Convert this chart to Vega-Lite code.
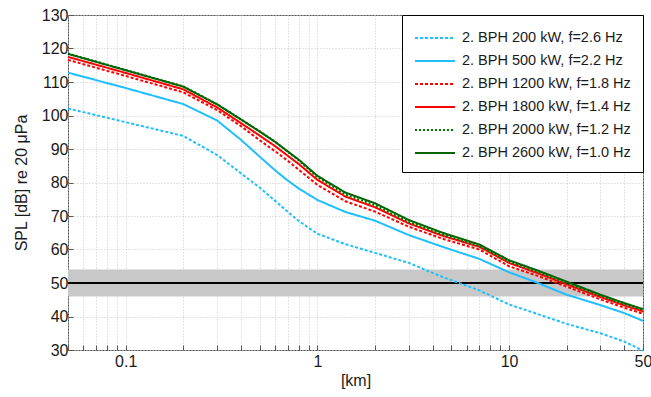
{
  "$schema": "https://vega.github.io/schema/vega-lite/v6.json",
  "width": 575,
  "height": 335,
  "autosize": {"type": "none"},
  "padding": {"left": 68, "top": 15, "right": 8, "bottom": 47},
  "background": "white",
  "config": {
    "font": "Liberation Sans",
    "view": {"stroke": "#555555", "strokeWidth": 1},
    "axis": {
      "domain": false,
      "labelFont": "Liberation Sans",
      "labelFontSize": 16,
      "labelColor": "#1a1a1a",
      "titleFont": "Liberation Sans",
      "titleFontSize": 16,
      "titleFontWeight": "normal",
      "titleColor": "#1a1a1a",
      "grid": true,
      "gridColor": "#c8c8c8",
      "gridDash": [1, 2],
      "gridWidth": 1,
      "tickColor": "#555555",
      "tickSize": -5,
      "labelOverlap": false
    }
  },
  "datasets": {
    "band": [{"lo": 46, "hi": 54, "mid": 50}],
    "curves": [
      {"s": "2. BPH 200 kW, f=2.6 Hz", "d": 0.05, "spl": 102.1},
      {"s": "2. BPH 200 kW, f=2.6 Hz", "d": 0.1, "spl": 98.0},
      {"s": "2. BPH 200 kW, f=2.6 Hz", "d": 0.2, "spl": 93.9},
      {"s": "2. BPH 200 kW, f=2.6 Hz", "d": 0.3, "spl": 88.2},
      {"s": "2. BPH 200 kW, f=2.6 Hz", "d": 0.4, "spl": 82.7},
      {"s": "2. BPH 200 kW, f=2.6 Hz", "d": 0.5, "spl": 78.5},
      {"s": "2. BPH 200 kW, f=2.6 Hz", "d": 0.6, "spl": 74.6},
      {"s": "2. BPH 200 kW, f=2.6 Hz", "d": 0.7, "spl": 71.3},
      {"s": "2. BPH 200 kW, f=2.6 Hz", "d": 0.8, "spl": 68.5},
      {"s": "2. BPH 200 kW, f=2.6 Hz", "d": 1.0, "spl": 64.7},
      {"s": "2. BPH 200 kW, f=2.6 Hz", "d": 1.4, "spl": 61.6},
      {"s": "2. BPH 200 kW, f=2.6 Hz", "d": 2, "spl": 59.0},
      {"s": "2. BPH 200 kW, f=2.6 Hz", "d": 3, "spl": 56.0},
      {"s": "2. BPH 200 kW, f=2.6 Hz", "d": 4.5, "spl": 51.8},
      {"s": "2. BPH 200 kW, f=2.6 Hz", "d": 7, "spl": 47.8},
      {"s": "2. BPH 200 kW, f=2.6 Hz", "d": 10, "spl": 43.6},
      {"s": "2. BPH 200 kW, f=2.6 Hz", "d": 14, "spl": 40.8},
      {"s": "2. BPH 200 kW, f=2.6 Hz", "d": 20, "spl": 37.8},
      {"s": "2. BPH 200 kW, f=2.6 Hz", "d": 30, "spl": 35.0},
      {"s": "2. BPH 200 kW, f=2.6 Hz", "d": 40, "spl": 32.5},
      {"s": "2. BPH 200 kW, f=2.6 Hz", "d": 50, "spl": 29.8},

      {"s": "2. BPH 500 kW, f=2.2 Hz", "d": 0.05, "spl": 112.8},
      {"s": "2. BPH 500 kW, f=2.2 Hz", "d": 0.1, "spl": 108.2},
      {"s": "2. BPH 500 kW, f=2.2 Hz", "d": 0.2, "spl": 103.4},
      {"s": "2. BPH 500 kW, f=2.2 Hz", "d": 0.3, "spl": 98.5},
      {"s": "2. BPH 500 kW, f=2.2 Hz", "d": 0.4, "spl": 92.7},
      {"s": "2. BPH 500 kW, f=2.2 Hz", "d": 0.5, "spl": 87.7},
      {"s": "2. BPH 500 kW, f=2.2 Hz", "d": 0.6, "spl": 83.7},
      {"s": "2. BPH 500 kW, f=2.2 Hz", "d": 0.7, "spl": 80.6},
      {"s": "2. BPH 500 kW, f=2.2 Hz", "d": 0.8, "spl": 78.2},
      {"s": "2. BPH 500 kW, f=2.2 Hz", "d": 1.0, "spl": 74.8},
      {"s": "2. BPH 500 kW, f=2.2 Hz", "d": 1.4, "spl": 71.2},
      {"s": "2. BPH 500 kW, f=2.2 Hz", "d": 2, "spl": 68.6},
      {"s": "2. BPH 500 kW, f=2.2 Hz", "d": 3, "spl": 64.3},
      {"s": "2. BPH 500 kW, f=2.2 Hz", "d": 4.5, "spl": 60.8},
      {"s": "2. BPH 500 kW, f=2.2 Hz", "d": 7, "spl": 57.2},
      {"s": "2. BPH 500 kW, f=2.2 Hz", "d": 10, "spl": 53.2},
      {"s": "2. BPH 500 kW, f=2.2 Hz", "d": 14, "spl": 50.1},
      {"s": "2. BPH 500 kW, f=2.2 Hz", "d": 20, "spl": 46.5},
      {"s": "2. BPH 500 kW, f=2.2 Hz", "d": 30, "spl": 43.4},
      {"s": "2. BPH 500 kW, f=2.2 Hz", "d": 40, "spl": 41.0},
      {"s": "2. BPH 500 kW, f=2.2 Hz", "d": 50, "spl": 38.7},

      {"s": "2. BPH 1200 kW, f=1.8 Hz", "d": 0.05, "spl": 116.6},
      {"s": "2. BPH 1200 kW, f=1.8 Hz", "d": 0.1, "spl": 111.8},
      {"s": "2. BPH 1200 kW, f=1.8 Hz", "d": 0.2, "spl": 106.9},
      {"s": "2. BPH 1200 kW, f=1.8 Hz", "d": 0.3, "spl": 101.6},
      {"s": "2. BPH 1200 kW, f=1.8 Hz", "d": 0.4, "spl": 96.8},
      {"s": "2. BPH 1200 kW, f=1.8 Hz", "d": 0.5, "spl": 92.6},
      {"s": "2. BPH 1200 kW, f=1.8 Hz", "d": 0.6, "spl": 89.4},
      {"s": "2. BPH 1200 kW, f=1.8 Hz", "d": 0.7, "spl": 86.5},
      {"s": "2. BPH 1200 kW, f=1.8 Hz", "d": 0.8, "spl": 83.8},
      {"s": "2. BPH 1200 kW, f=1.8 Hz", "d": 1.0, "spl": 79.3},
      {"s": "2. BPH 1200 kW, f=1.8 Hz", "d": 1.4, "spl": 74.4},
      {"s": "2. BPH 1200 kW, f=1.8 Hz", "d": 2, "spl": 71.3},
      {"s": "2. BPH 1200 kW, f=1.8 Hz", "d": 3, "spl": 66.8},
      {"s": "2. BPH 1200 kW, f=1.8 Hz", "d": 4.5, "spl": 63.2},
      {"s": "2. BPH 1200 kW, f=1.8 Hz", "d": 7, "spl": 60.0},
      {"s": "2. BPH 1200 kW, f=1.8 Hz", "d": 10, "spl": 55.0},
      {"s": "2. BPH 1200 kW, f=1.8 Hz", "d": 14, "spl": 52.2},
      {"s": "2. BPH 1200 kW, f=1.8 Hz", "d": 20, "spl": 48.9},
      {"s": "2. BPH 1200 kW, f=1.8 Hz", "d": 30, "spl": 45.1},
      {"s": "2. BPH 1200 kW, f=1.8 Hz", "d": 40, "spl": 42.6},
      {"s": "2. BPH 1200 kW, f=1.8 Hz", "d": 50, "spl": 40.8},

      {"s": "2. BPH 1800 kW, f=1.4 Hz", "d": 0.05, "spl": 117.5},
      {"s": "2. BPH 1800 kW, f=1.4 Hz", "d": 0.1, "spl": 112.7},
      {"s": "2. BPH 1800 kW, f=1.4 Hz", "d": 0.2, "spl": 107.8},
      {"s": "2. BPH 1800 kW, f=1.4 Hz", "d": 0.3, "spl": 102.4},
      {"s": "2. BPH 1800 kW, f=1.4 Hz", "d": 0.4, "spl": 97.7},
      {"s": "2. BPH 1800 kW, f=1.4 Hz", "d": 0.5, "spl": 94.0},
      {"s": "2. BPH 1800 kW, f=1.4 Hz", "d": 0.6, "spl": 90.9},
      {"s": "2. BPH 1800 kW, f=1.4 Hz", "d": 0.7, "spl": 88.0},
      {"s": "2. BPH 1800 kW, f=1.4 Hz", "d": 0.8, "spl": 85.5},
      {"s": "2. BPH 1800 kW, f=1.4 Hz", "d": 1.0, "spl": 80.8},
      {"s": "2. BPH 1800 kW, f=1.4 Hz", "d": 1.4, "spl": 75.8},
      {"s": "2. BPH 1800 kW, f=1.4 Hz", "d": 2, "spl": 72.6},
      {"s": "2. BPH 1800 kW, f=1.4 Hz", "d": 3, "spl": 67.8},
      {"s": "2. BPH 1800 kW, f=1.4 Hz", "d": 4.5, "spl": 64.1},
      {"s": "2. BPH 1800 kW, f=1.4 Hz", "d": 7, "spl": 60.8},
      {"s": "2. BPH 1800 kW, f=1.4 Hz", "d": 10, "spl": 56.0},
      {"s": "2. BPH 1800 kW, f=1.4 Hz", "d": 14, "spl": 53.0},
      {"s": "2. BPH 1800 kW, f=1.4 Hz", "d": 20, "spl": 49.6},
      {"s": "2. BPH 1800 kW, f=1.4 Hz", "d": 30, "spl": 45.8},
      {"s": "2. BPH 1800 kW, f=1.4 Hz", "d": 40, "spl": 43.3},
      {"s": "2. BPH 1800 kW, f=1.4 Hz", "d": 50, "spl": 41.5},

      {"s": "2. BPH 2000 kW, f=1.2 Hz", "d": 0.05, "spl": 118.5},
      {"s": "2. BPH 2000 kW, f=1.2 Hz", "d": 0.1, "spl": 113.6},
      {"s": "2. BPH 2000 kW, f=1.2 Hz", "d": 0.2, "spl": 108.7},
      {"s": "2. BPH 2000 kW, f=1.2 Hz", "d": 0.3, "spl": 103.4},
      {"s": "2. BPH 2000 kW, f=1.2 Hz", "d": 0.4, "spl": 98.8},
      {"s": "2. BPH 2000 kW, f=1.2 Hz", "d": 0.5, "spl": 95.3},
      {"s": "2. BPH 2000 kW, f=1.2 Hz", "d": 0.6, "spl": 92.2},
      {"s": "2. BPH 2000 kW, f=1.2 Hz", "d": 0.7, "spl": 89.2},
      {"s": "2. BPH 2000 kW, f=1.2 Hz", "d": 0.8, "spl": 86.6},
      {"s": "2. BPH 2000 kW, f=1.2 Hz", "d": 1.0, "spl": 81.6},
      {"s": "2. BPH 2000 kW, f=1.2 Hz", "d": 1.4, "spl": 76.4},
      {"s": "2. BPH 2000 kW, f=1.2 Hz", "d": 2, "spl": 73.2},
      {"s": "2. BPH 2000 kW, f=1.2 Hz", "d": 3, "spl": 68.2},
      {"s": "2. BPH 2000 kW, f=1.2 Hz", "d": 4.5, "spl": 64.5},
      {"s": "2. BPH 2000 kW, f=1.2 Hz", "d": 7, "spl": 61.0},
      {"s": "2. BPH 2000 kW, f=1.2 Hz", "d": 10, "spl": 56.4},
      {"s": "2. BPH 2000 kW, f=1.2 Hz", "d": 14, "spl": 53.4},
      {"s": "2. BPH 2000 kW, f=1.2 Hz", "d": 20, "spl": 50.0},
      {"s": "2. BPH 2000 kW, f=1.2 Hz", "d": 30, "spl": 46.2},
      {"s": "2. BPH 2000 kW, f=1.2 Hz", "d": 40, "spl": 43.7},
      {"s": "2. BPH 2000 kW, f=1.2 Hz", "d": 50, "spl": 42.0},

      {"s": "2. BPH 2600 kW, f=1.0 Hz", "d": 0.05, "spl": 118.4},
      {"s": "2. BPH 2600 kW, f=1.0 Hz", "d": 0.1, "spl": 113.5},
      {"s": "2. BPH 2600 kW, f=1.0 Hz", "d": 0.2, "spl": 108.6},
      {"s": "2. BPH 2600 kW, f=1.0 Hz", "d": 0.3, "spl": 103.3},
      {"s": "2. BPH 2600 kW, f=1.0 Hz", "d": 0.4, "spl": 98.8},
      {"s": "2. BPH 2600 kW, f=1.0 Hz", "d": 0.5, "spl": 95.2},
      {"s": "2. BPH 2600 kW, f=1.0 Hz", "d": 0.6, "spl": 92.2},
      {"s": "2. BPH 2600 kW, f=1.0 Hz", "d": 0.7, "spl": 89.3},
      {"s": "2. BPH 2600 kW, f=1.0 Hz", "d": 0.8, "spl": 86.8},
      {"s": "2. BPH 2600 kW, f=1.0 Hz", "d": 1.0, "spl": 82.0},
      {"s": "2. BPH 2600 kW, f=1.0 Hz", "d": 1.4, "spl": 77.0},
      {"s": "2. BPH 2600 kW, f=1.0 Hz", "d": 2, "spl": 73.8},
      {"s": "2. BPH 2600 kW, f=1.0 Hz", "d": 3, "spl": 68.8},
      {"s": "2. BPH 2600 kW, f=1.0 Hz", "d": 4.5, "spl": 65.0},
      {"s": "2. BPH 2600 kW, f=1.0 Hz", "d": 7, "spl": 61.5},
      {"s": "2. BPH 2600 kW, f=1.0 Hz", "d": 10, "spl": 56.8},
      {"s": "2. BPH 2600 kW, f=1.0 Hz", "d": 14, "spl": 53.8},
      {"s": "2. BPH 2600 kW, f=1.0 Hz", "d": 20, "spl": 50.4},
      {"s": "2. BPH 2600 kW, f=1.0 Hz", "d": 30, "spl": 46.5},
      {"s": "2. BPH 2600 kW, f=1.0 Hz", "d": 40, "spl": 44.0},
      {"s": "2. BPH 2600 kW, f=1.0 Hz", "d": 50, "spl": 42.2}
    ]
  },
  "layer": [
    {
      "data": {"name": "band"},
      "mark": {"type": "rect", "color": "#c8c8c8"},
      "encoding": {
        "y": {"field": "lo", "type": "quantitative", "scale": {"domain": [30, 130], "nice": false, "zero": false},
          "axis": {"title": "SPL [dB] re 20 μPa", "values": [30, 40, 50, 60, 70, 80, 90, 100, 110, 120, 130], "labelOverlap": false, "labelPadding": 5, "titlePadding": 12}},
        "y2": {"field": "hi"}
      }
    },
    {
      "data": {"name": "band"},
      "mark": {"type": "rule", "color": "black", "strokeWidth": 2},
      "encoding": {"y": {"field": "mid", "type": "quantitative",
          "axis": {"title": "SPL [dB] re 20 μPa", "values": [30, 40, 50, 60, 70, 80, 90, 100, 110, 120, 130], "labelOverlap": false, "labelPadding": 5, "titlePadding": 12}}}
    },
    {
      "data": {"name": "curves"},
      "mark": {"type": "line", "strokeWidth": 2, "interpolate": "linear"},
      "encoding": {
        "x": {"field": "d", "type": "quantitative",
          "scale": {"type": "log", "domain": [0.05, 50], "nice": false},
          "axis": {"title": "[km]", "values": [0.05, 0.06, 0.07, 0.08, 0.09, 0.1, 0.2, 0.3, 0.4, 0.5, 0.6, 0.7, 0.8, 0.9, 1, 2, 3, 4, 5, 6, 7, 8, 9, 10, 20, 30, 40, 50],
            "labelExpr": "datum.value == 0.1 ? '0.1' : datum.value == 1 ? '1' : datum.value == 10 ? '10' : datum.value == 50 ? '50' : ''",
            "labelFlush": false, "labelPadding": 8, "titlePadding": 3}},
        "y": {"field": "spl", "type": "quantitative",
          "axis": {"title": "SPL [dB] re 20 μPa", "values": [30, 40, 50, 60, 70, 80, 90, 100, 110, 120, 130], "labelOverlap": false, "labelPadding": 5, "titlePadding": 12}},
        "color": {"field": "s", "type": "nominal", "sort": null,
          "scale": {"domain": ["2. BPH 200 kW, f=2.6 Hz", "2. BPH 500 kW, f=2.2 Hz", "2. BPH 1200 kW, f=1.8 Hz", "2. BPH 1800 kW, f=1.4 Hz", "2. BPH 2000 kW, f=1.2 Hz", "2. BPH 2600 kW, f=1.0 Hz"],
            "range": ["#1fbfff", "#1fbfff", "#ff0000", "#ff0000", "#007a00", "#006400"]},
          "legend": {"title": null, "orient": "top-right", "offset": 0, "strokeColor": "black", "fillColor": "white", "padding": 12,
            "labelFontSize": 14.5, "labelFont": "Liberation Sans", "labelColor": "#1a1a1a", "labelLimit": 400,
            "symbolType": "M-2,0H2", "symbolSize": 400, "symbolStrokeWidth": 2, "symbolOffset": 10, "rowPadding": 5, "labelOffset": 16}},
        "strokeDash": {"field": "s", "type": "nominal", "sort": null,
          "scale": {"domain": ["2. BPH 200 kW, f=2.6 Hz", "2. BPH 500 kW, f=2.2 Hz", "2. BPH 1200 kW, f=1.8 Hz", "2. BPH 1800 kW, f=1.4 Hz", "2. BPH 2000 kW, f=1.2 Hz", "2. BPH 2600 kW, f=1.0 Hz"],
            "range": [[3, 2], [1, 0], [3, 2], [1, 0], [2, 2], [1, 0]]}}
      }
    }
  ]
}
